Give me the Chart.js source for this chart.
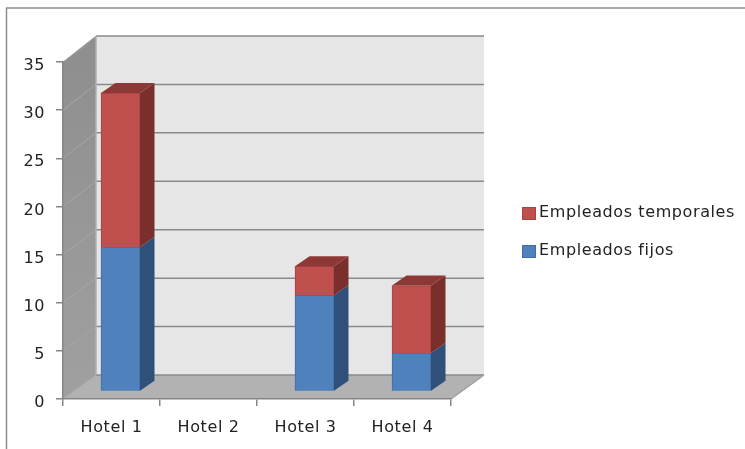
<!DOCTYPE html>
<html>
<head>
<meta charset="utf-8">
<style>
  html, body { margin: 0; padding: 0; background: #fff; }
  #wrap { position: relative; width: 745px; height: 449px; }
  canvas { filter: blur(0.4px); }
</style>
<script src="https://cdn.jsdelivr.net/npm/chart.js@4/dist/chart.umd.min.js"></script>
</head>
<body>
<div id="wrap"><canvas id="hotelChart"></canvas></div>
<script>
const categories = ['Hotel 1', 'Hotel 2', 'Hotel 3', 'Hotel 4'];
const empleadosFijos = [15, 0, 10, 4];
const empleadosTemporales = [16, 0, 3, 7];
const yTicksMax = 35;
const yTicksStep = 5;

const textColor = '#222222';
const axisColor = '#868686';
const textFont = '16px "DejaVu Sans"';

// Depth of the fake 3D box, and where the bars sit inside it
const wallDx = 33;
const wallDyBottom = -24;
const wallDyTop = -26;
const barShiftX = 9;
const barShiftY = -7.5;
const barDx = 14.5;
const barDy = -10;

function poly(ctx, color, pts) {
  ctx.fillStyle = color;
  ctx.beginPath();
  pts.forEach((p, i) => i ? ctx.lineTo(p[0], p[1]) : ctx.moveTo(p[0], p[1]));
  ctx.closePath();
  ctx.fill();
}

// Walls, floor and gridlines, taken from the chart scales
const boxPlugin = {
  id: 'box',
  beforeDraw(chart) {
    const ctx = chart.ctx;
    const { left, right, top, bottom } = chart.chartArea;
    const y = chart.scales.y;
    ctx.letterSpacing = '0.6px';

    ctx.save();
    // picture frame
    ctx.strokeStyle = '#8e8e8e';
    ctx.lineWidth = 1.5;
    ctx.beginPath();
    ctx.moveTo(6.5, 449);
    ctx.lineTo(6.5, 8);
    ctx.lineTo(745, 8);
    ctx.stroke();

    const bl = [left + wallDx, bottom + wallDyBottom];
    const br = [right + wallDx, bottom + wallDyBottom];
    const tl = [left + wallDx, top + wallDyTop];
    const tr = [right + wallDx, top + wallDyTop];

    poly(ctx, '#e6e6e6', [tl, tr, br, bl]);
    const grad = ctx.createLinearGradient(0, top, 0, bottom);
    grad.addColorStop(0, '#8f8f8f');
    grad.addColorStop(1, '#a0a0a0');
    poly(ctx, grad, [[left, top], tl, bl, [left, bottom]]);
    poly(ctx, '#b2b2b2', [[left, bottom], bl, br, [right, bottom]]);

    ctx.lineWidth = 1.5;
    y.ticks.forEach((t) => {
      const py = y.getPixelForValue(t.value);
      const dy = wallDyBottom + (wallDyTop - wallDyBottom) * t.value / yTicksMax;
      ctx.strokeStyle = '#8a8a8a';
      ctx.beginPath();
      ctx.moveTo(left + wallDx, py + dy);
      ctx.lineTo(right + wallDx, py + dy);
      ctx.stroke();
      ctx.strokeStyle = '#a6a6a6';
      ctx.lineWidth = 1;
      ctx.beginPath();
      ctx.moveTo(left, py);
      ctx.lineTo(left + wallDx, py + dy);
      ctx.stroke();
      ctx.lineWidth = 1.5;
    });
    // back corner of the side wall and right edge of the floor
    ctx.strokeStyle = '#b0b0b0';
    ctx.beginPath();
    ctx.moveTo(left + wallDx, top + wallDyTop);
    ctx.lineTo(left + wallDx, bottom + wallDyBottom);
    ctx.stroke();
    ctx.strokeStyle = '#a0a0a0';
    ctx.beginPath();
    ctx.moveTo(right, bottom);
    ctx.lineTo(right + wallDx, bottom + wallDyBottom);
    ctx.stroke();
    ctx.restore();
  },
  beforeDatasetsDraw(chart) {
    chart.ctx.save();
    chart.ctx.translate(barShiftX, barShiftY);
  },
  afterDatasetsDraw(chart) {
    const ctx = chart.ctx;
    chart.data.datasets.forEach((ds, d) => {
      chart.getDatasetMeta(d).data.forEach((bar, i) => {
        if (!ds.data[i]) return;
        const { x, y, base, width } = bar.getProps(['x', 'y', 'base', 'width']);
        const r = x + width / 2;
        const l = x - width / 2;
        poly(ctx, ds.sideColor, [[r, y], [r + barDx, y + barDy], [r + barDx, base + barDy], [r, base]]);
        const above = chart.data.datasets.slice(d + 1).some((o) => o.data[i]);
        if (!above) {
          poly(ctx, ds.topColor, [[l, y], [l + barDx, y + barDy], [r + barDx, y + barDy], [r, y]]);
        }
      });
    });
    ctx.restore();
  },
  // legend on the right, last series first
  afterDraw(chart) {
    const ctx = chart.ctx;
    ctx.save();
    ctx.font = textFont;
    ctx.textBaseline = 'middle';
    ctx.textAlign = 'left';
    let ly = 213;
    chart.data.datasets.slice().reverse().forEach((ds) => {
      ctx.fillStyle = ds.frontColor;
      ctx.fillRect(522, ly - 6, 14, 13);
      ctx.strokeStyle = ds.edgeColor;
      ctx.lineWidth = 1;
      ctx.strokeRect(522.5, ly - 5.5, 13, 12);
      ctx.fillStyle = textColor;
      ctx.fillText(ds.label, 539, ly);
      ly += 38;
    });
    ctx.restore();
  }
};

// Hotel 2 has no bar, so its zero values must not leave a hairline
function barStyle(color) {
  return (c) => (c.raw ? color : 'transparent');
}

const chart = new Chart(document.getElementById('hotelChart'), {
  type: 'bar',
  data: {
    labels: categories,
    datasets: [
      {
        label: 'Empleados fijos',
        data: empleadosFijos,
        frontColor: '#4f81bd',
        edgeColor: '#3f6ea6',
        backgroundColor: barStyle('#4f81bd'),
        borderColor: barStyle('#3f6ea6'),
        sideColor: '#2f5179',
        topColor: '#3d6591'
      },
      {
        label: 'Empleados temporales',
        data: empleadosTemporales,
        frontColor: '#c0504d',
        edgeColor: '#a8433f',
        backgroundColor: barStyle('#c0504d'),
        borderColor: barStyle('#a8433f'),
        sideColor: '#7b2f2d',
        topColor: '#8c3836'
      }
    ]
  },
  options: {
    responsive: true,
    maintainAspectRatio: false,
    animation: false,
    layout: { padding: { top: 62, right: 294 } },
    datasets: { bar: { barThickness: 39, borderWidth: 1 } },
    plugins: { legend: { display: false }, tooltip: { enabled: false } },
    scales: {
      x: {
        stacked: true,
        afterFit: (s) => { s.height = 50; },
        border: { color: axisColor, width: 1.5 },
        grid: { color: axisColor, drawOnChartArea: false, tickLength: 7, lineWidth: 1.5 },
        ticks: { color: textColor, font: { family: 'DejaVu Sans', size: 16 }, padding: 12, maxRotation: 0, autoSkip: false }
      },
      y: {
        stacked: true,
        min: 0,
        max: yTicksMax,
        afterFit: (s) => { s.width = 63; },
        border: { color: axisColor, width: 1.5 },
        grid: { color: axisColor, drawOnChartArea: false, tickLength: 7, lineWidth: 1.5 },
        ticks: { stepSize: yTicksStep, color: textColor, font: { family: 'DejaVu Sans', size: 16 }, padding: 11, labelOffset: 4 }
      }
    }
  },
  plugins: [boxPlugin]
});
</script>
</body>
</html>
